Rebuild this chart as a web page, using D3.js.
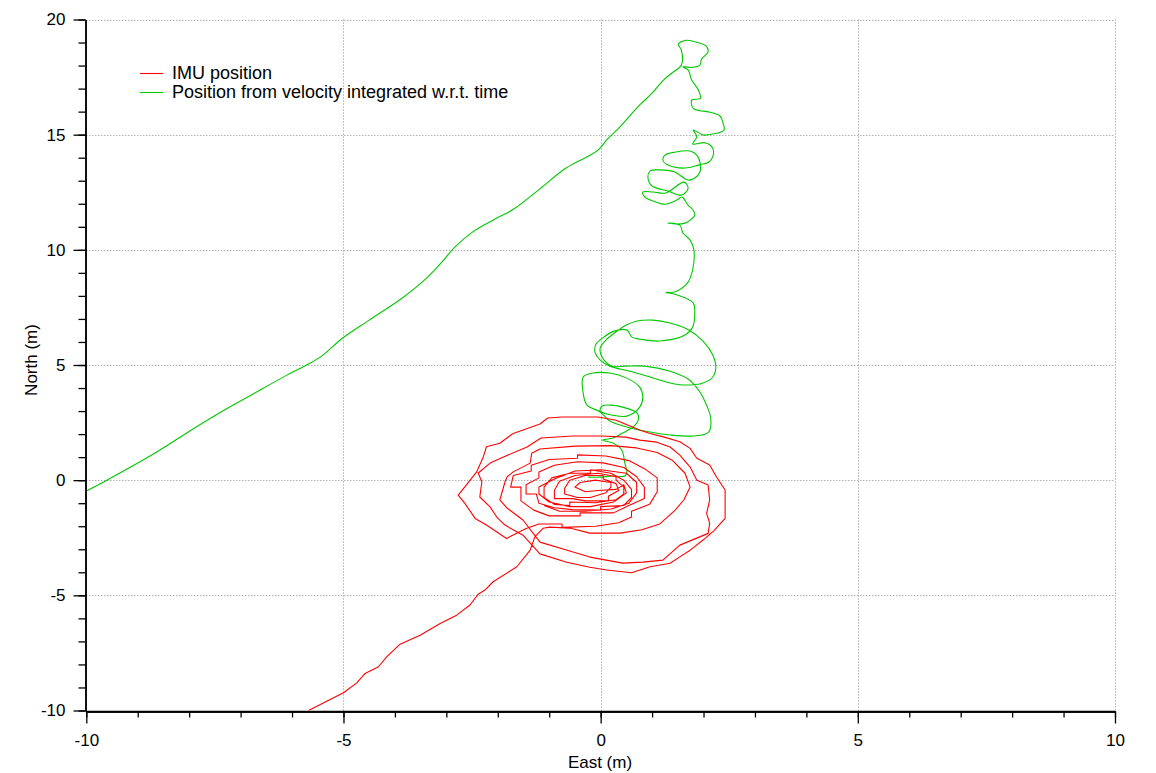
<!DOCTYPE html>
<html><head><meta charset="utf-8">
<script src="https://cdn.jsdelivr.net/npm/d3@7"></script>
<style>
body{margin:0;background:#fff}
svg{display:block}
text{font-family:Helvetica,Arial,"Liberation Sans",sans-serif;fill:#000}
</style>
</head><body>
<svg id="chart" width="1156" height="773"></svg>
<script>
// ---- data ----
const xMajorTicks = [-10, -5, 0, 5, 10];
const yMajorTicks = [-10, -5, 0, 5, 10, 15, 20];
const xMinorTicks = [-10,-9,-8,-7,-6,-5,-4,-3,-2,-1,0,1,2,3,4,5,6,7,8,9,10];
const yMinorTicks = [-10,-9,-8,-7,-6,-5,-4,-3,-2,-1,0,1,2,3,4,5,6,7,8,9,10,11,12,13,14,15,16,17,18,19,20];
const xGrid = [-5, 0, 5, 10];
const yGrid = [-5, 0, 5, 10, 15, 20];
const seriesNames = ["IMU position", "Position from velocity integrated w.r.t. time"];
const seriesColors = ["#ff0000", "#00c800"];

// IMU position [East, North]
const imuTail = [[-5.68,-10.0],[-5.0,-9.23],[-4.74,-8.8],[-4.58,-8.39],[-4.32,-8.1],[-4.16,-7.67],[-3.9,-7.12],[-3.51,-6.73],[-3.12,-6.22],[-2.8,-5.86],[-2.54,-5.42],[-2.38,-4.95],[-2.25,-4.77],[-2.09,-4.41],[-1.63,-3.76],[-1.37,-3.04],[-1.28,-2.46],[-1.12,-2.09]];
const imuRingC = [[-0.99,-2.04],[-0.6,-2.08],[-0.21,-2.3],[0.38,-2.3],[0.8,-2.15],[1.15,-1.9],[1.45,-1.3],[1.62,-0.85],[1.74,-0.3],[1.64,0.3],[1.4,0.85],[1.1,1.2],[0.7,1.4],[0.2,1.5],[-0.5,1.48],[-1.18,1.35],[-1.34,1.17],[-1.37,0.74],[-1.7,0.36],[-1.82,0.14],[-1.86,-0.08],[-1.96,-0.86],[-1.82,-1.21],[-1.51,-1.73]];
const imuRingB = [[-1.18,-2.69],[-0.65,-3.04],[-0.21,-3.34],[0.43,-3.6],[0.82,-3.56],[1.21,-3.47],[1.54,-2.82],[2.09,-2.31],[2.12,-1.87],[2.06,-1.44],[2.12,-0.87],[2.09,-0.21],[1.87,0.0],[1.74,0.57],[1.54,1.09],[1.35,1.44],[1.09,1.65],[0.76,1.74],[0.49,1.87],[0.01,1.92],[-0.54,1.92],[-1.16,1.83],[-1.43,1.44],[-1.9,1.0],[-2.15,0.74],[-2.38,0.31],[-2.31,-0.08],[-2.35,-0.73],[-2.15,-1.16],[-2.02,-1.6],[-1.86,-1.95],[-1.51,-2.39]];
const imuRingA = [[-1.18,-3.2],[-0.66,-3.56],[-0.21,-3.78],[0.12,-3.9],[0.6,-4.02],[0.96,-3.76],[1.35,-3.61],[1.54,-3.33],[1.74,-3.04],[1.99,-2.6],[2.2,-2.2],[2.42,-1.66],[2.42,-0.43],[2.25,0.15],[2.12,0.66],[1.87,0.95],[1.74,1.38],[1.54,1.67],[1.22,1.88],[0.96,2.03],[0.77,2.17],[0.3,2.6],[-0.05,2.74],[-0.75,2.74],[-1.03,2.7],[-1.18,2.44],[-1.7,2.03],[-1.96,1.6],[-2.22,1.45],[-2.28,1.02],[-2.41,0.36],[-2.64,-0.29],[-2.77,-0.65],[-2.64,-1.01],[-2.44,-1.66],[-2.22,-1.95],[-1.83,-2.53],[-1.45,-2.1]];
const imuInner = [[-1.2,-1.9],[-0.75,-1.9],[-0.75,-2.05],[-0.1,-2.0],[0.35,-1.85],[0.6,-1.6],[0.6,-1.35],[0.95,-1.05],[1.1,-0.5],[1.1,0.1],[0.85,0.5],[0.55,0.85],[0.1,1.05],[-0.45,1.1],[-0.45,0.95],[-1.0,0.9],[-1.35,0.65],[-1.35,0.4],[-1.7,0.2],[-1.75,-0.3],[-1.55,-0.3],[-1.55,-0.9],[-1.3,-1.3],
  [-1.0,-1.55],[-0.4,-1.55],[-0.4,-1.42],[0.25,-1.42],[0.55,-1.1],[0.85,-0.8],[0.85,-0.3],[0.7,0.15],[0.45,0.55],[0.05,0.75],[-0.45,0.8],[-0.9,0.65],[-1.2,0.35],[-1.2,0.1],[-1.45,-0.2],[-1.45,-0.6],[-1.25,-0.6],[-1.2,-1.0],[-0.9,-1.2],
  [-0.55,-1.28],[0.0,-1.3],[0.0,-1.15],[0.45,-1.1],[0.6,-0.75],[0.6,-0.4],[0.45,0.0],[0.2,0.3],[-0.2,0.45],[-0.2,0.3],[-0.6,0.3],[-0.95,0.1],[-1.1,-0.3],[-1.1,-0.75],[-0.9,-1.05],
  [-0.6,-1.1],[-0.6,-0.95],[-0.1,-0.98],[0.3,-0.85],[0.45,-0.6],[0.45,-0.3],[0.3,0.0],[0.3,0.15],[-0.05,0.3],[-0.5,0.2],[-0.8,-0.05],[-0.9,-0.45],[-0.9,-0.8],[-0.55,-0.8],
  [-0.3,-0.9],[0.15,-0.9],[0.15,-0.7],[0.35,-0.45],[0.3,-0.15],[0.05,0.05],[0.05,0.2],[-0.3,0.2],[-0.6,0.0],[-0.7,-0.35],[-0.7,-0.6],[-0.45,-0.75],
  [-0.2,-0.75],[0.1,-0.55],[0.2,-0.3],[0.2,-0.1],[-0.1,0.0],[-0.4,-0.1],[-0.5,-0.3],[-0.3,-0.5],[-0.05,-0.45],
  [0.3,-0.4],[0.45,-0.2],[0.5,-0.55],[0.25,-0.95],[-0.2,-1.15],[-0.6,-1.15],[-1.0,-0.95],
  [-1.2,-0.6],[-1.2,-0.3],[-0.9,0.05],[-0.5,0.4],[0.0,0.45],[0.5,0.3],[0.7,-0.1],[0.7,-0.55],[0.55,-1.0],[0.2,-1.25],[-0.3,-1.35],[-0.8,-1.35],[-1.1,-1.1]];

// Position from velocity [East, North]
const velLine = [[-10.0,-0.47],[-9.6,0.0],[-8.73,1.09],[-8.04,2.06],[-7.48,2.83],[-6.79,3.70],[-6.10,4.56],[-5.68,5.04],[-5.40,5.43],[-5.02,6.16],[-4.50,6.95],[-3.87,7.89],[-3.39,8.76],[-3.11,9.41],[-2.83,10.13],[-2.48,10.79],[-2.07,11.32],[-1.69,11.77],[-1.17,12.67],[-0.68,13.54],[-0.26,14.04],[-0.05,14.33],[0.12,14.77],[0.38,15.35],[0.6,15.9],[0.76,16.29],[1.0,16.8],[1.22,17.37],[1.4,17.7],[1.57,18.02]];
const velTop = [[1.57,18.67],[1.51,18.93],[1.67,19.10],[1.90,18.99],[2.05,18.85],[2.09,18.60],[1.96,18.27],[1.93,18.02],[1.77,17.92],[1.60,17.95],[1.70,17.81],
  [1.77,17.37],[1.90,16.94],[1.94,16.58],[1.77,16.50],[1.80,16.14],[1.93,16.04],[2.07,16.00],[2.32,15.81],[2.38,15.49],[2.40,15.20],[2.25,15.06],[1.99,14.99],[1.80,15.20],[1.87,14.91],[1.79,14.60],[2.03,14.65],[2.16,14.48],[2.19,14.12],[2.09,13.79],[1.93,13.70]];
const velMid = [[1.64,13.55],[1.31,13.68],[1.21,13.9],[1.25,14.11],[1.44,14.24],[1.74,14.29],[1.87,14.11],[1.93,13.81],[1.93,13.38],[1.83,13.12],[1.70,13.03],
  [1.44,13.38],[1.15,13.47],[0.96,13.42],[0.92,13.12],[1.0,12.77],[1.31,12.55],[1.58,12.38],[1.70,12.68],[1.62,12.94],
  [1.27,12.47],[1.02,12.51],[0.82,12.51],[0.86,12.29],[1.02,12.12],[1.25,11.98],[1.48,12.16],[1.58,12.29],[1.70,11.94],[1.80,11.72],[1.83,11.51],[1.74,11.29],[1.64,11.16],[1.46,11.12],[1.31,11.16],[1.54,11.07],[1.60,10.73],[1.74,10.42],[1.81,10.03],[1.81,9.42],[1.74,8.77],[1.67,8.51],
  [1.44,8.17],[1.27,8.15],[1.46,8.06],[1.80,7.69],[1.83,7.26],[1.79,6.65],[1.64,6.3],[1.15,6.04],[0.77,6.12],[0.61,6.21],[0.51,6.52]];
const velLoops = [[0.26,6.47],[0.06,6.21],[-0.09,5.91],[-0.11,5.56],[-0.01,5.21],[0.18,4.95],
  [0.57,4.73],[0.96,4.48],[1.35,4.22],[1.64,4.13],[1.99,4.22],[2.18,4.48],[2.24,4.91],[2.18,5.43],[1.99,6.04],[1.68,6.56],[1.35,6.82],[1.02,6.95],[0.71,6.91],[0.49,6.73],
  [0.32,6.47],[0.12,6.12],[-0.01,5.73],[0.03,5.34],[0.22,4.95],[0.47,4.95],[0.86,4.95],[1.35,4.73],[1.70,4.39],[1.93,3.83],[2.05,3.3],[2.14,2.7],[2.10,2.09],[1.80,1.92],[1.35,1.96],[0.96,2.09],[0.51,2.31],[0.18,2.57],[-0.01,2.96],[-0.27,3.27],[-0.34,3.79],[-0.34,4.48],[-0.15,4.65],[0.18,4.65],[0.51,4.43],[0.76,4.04],[0.82,3.61],[0.76,3.17],[0.51,2.78],[0.24,2.82],[-0.01,3.0],[0.03,3.22],[0.18,3.26],[0.43,3.17],[0.71,2.91],[0.73,2.61],[0.63,2.31],[0.43,2.05],[0.24,1.83],[0.03,1.74],[0.24,1.61],[0.41,1.31],[0.47,0.74],[0.51,0.35],[0.47,0.18],[0.22,0.18],[-0.01,0.13],[-0.24,0.13]];

const imuPath = [].concat(imuTail, imuRingC, imuRingB, imuRingA, imuInner);
const velPath = [].concat(velLine, velTop, velMid, velLoops);

// ---- drawing ----
const svg = d3.select("#chart");
const x = d3.scaleLinear().domain([-10, 10]).range([86.3, 1115]);
const y = d3.scaleLinear().domain([-10, 20]).range([710.5, 19.5]);
const FONT = 'Helvetica, Arial, "Liberation Sans", sans-serif';

svg.append("defs").append("clipPath").attr("id","plotclip")
  .append("rect").attr("x", x(-10)).attr("y", y(20)).attr("width", x(10)-x(-10)).attr("height", y(-10)-y(20));

// grid
const grid = svg.append("g").attr("stroke", "#8a8a8a").attr("stroke-width", 1).attr("stroke-dasharray", "1,2");
grid.selectAll("line.v").data(xGrid).join("line").attr("class","v")
  .attr("x1", d => Math.round(x(d)) + 0.5).attr("x2", d => Math.round(x(d)) + 0.5)
  .attr("y1", y(20)).attr("y2", y(-10));
grid.selectAll("line.h").data(yGrid).join("line").attr("class","h")
  .attr("y1", d => Math.round(y(d)) + 0.5).attr("y2", d => Math.round(y(d)) + 0.5)
  .attr("x1", x(-10)).attr("x2", x(10));

// series
const lineLinear = d3.line().x(d => x(d[0])).y(d => y(d[1]));
const lineSmooth = d3.line().x(d => x(d[0])).y(d => y(d[1])).curve(d3.curveCatmullRom.alpha(0.5));
const plot = svg.append("g").attr("clip-path", "url(#plotclip)");
plot.append("path").datum(velPath).attr("d", lineSmooth).attr("fill","none")
  .attr("stroke", seriesColors[1]).attr("stroke-width", 1.1).attr("stroke-linejoin","round");
plot.append("path").datum(imuPath).attr("d", lineLinear).attr("fill","none")
  .attr("stroke", seriesColors[0]).attr("stroke-width", 1.1).attr("stroke-linejoin","round");

// axes
const axY0 = 711.5, axX0 = 85.5;
const fmt = d => String(d);
const xMinorAxis = d3.axisBottom(x).tickValues(xMinorTicks).tickSize(6).tickSizeOuter(0).tickFormat("");
const xMajorAxis = d3.axisBottom(x).tickValues(xMajorTicks).tickSize(12).tickSizeOuter(0).tickPadding(10).tickFormat(fmt);
const yMinorAxis = d3.axisLeft(y).tickValues(yMinorTicks).tickSize(7).tickSizeOuter(0).tickFormat("");
const yMajorAxis = d3.axisLeft(y).tickValues(yMajorTicks).tickSize(12).tickSizeOuter(0).tickPadding(8).tickFormat(fmt);

function styleAxis(g) {
  g.attr("font-family", FONT).attr("font-size", 17);
  g.selectAll("line").attr("stroke", "#000").attr("stroke-width", 1.3);
  g.selectAll("path.domain").attr("stroke", "#000").attr("stroke-width", 1.5);
  g.selectAll("text").attr("fill", "#000");
}
svg.append("g").attr("transform", `translate(0,${axY0})`).call(xMinorAxis).call(styleAxis);
svg.append("g").attr("transform", `translate(0,${axY0})`).call(xMajorAxis).call(styleAxis);
svg.append("g").attr("transform", `translate(${axX0},0)`).call(yMinorAxis).call(styleAxis);
svg.append("g").attr("transform", `translate(${axX0},0)`).call(yMajorAxis).call(styleAxis);
svg.append("line").attr("x1", axX0).attr("x2", x(10)).attr("y1", axY0).attr("y2", axY0).attr("stroke","#000").attr("stroke-width",1.5);

// axis titles
svg.append("text").attr("x", 600).attr("y", 768).attr("text-anchor","middle")
  .attr("font-size", 17).attr("font-family", FONT).text("East (m)");
svg.append("text").attr("transform", "translate(37,360) rotate(-90)").attr("text-anchor","middle")
  .attr("font-size", 17).attr("font-family", FONT).text("North (m)");

// legend
const leg = svg.append("g").attr("transform", "translate(140,73)");
seriesNames.forEach((name, i) => {
  const gy = i * 19;
  leg.append("line").attr("x1", 0).attr("x2", 23).attr("y1", gy + 0.5).attr("y2", gy + 0.5)
    .attr("stroke", seriesColors[i]).attr("stroke-width", 1.1);
  leg.append("text").attr("x", 32).attr("y", gy + 6).attr("font-size", 18).attr("font-family", FONT).text(name);
});
</script>
</body></html>
